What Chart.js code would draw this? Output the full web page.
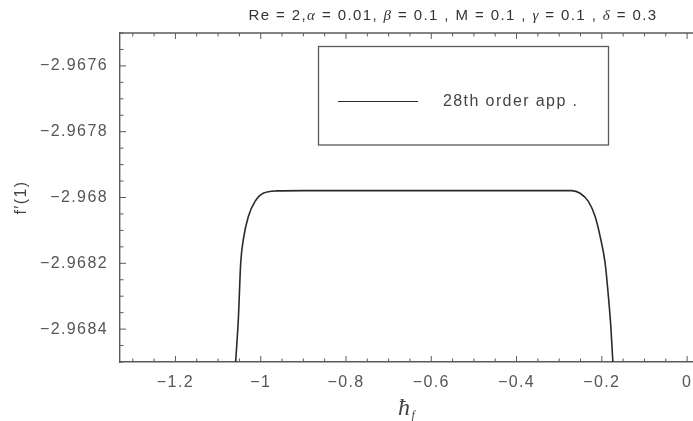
<!DOCTYPE html>
<html>
<head>
<meta charset="utf-8">
<script src="https://cdn.jsdelivr.net/npm/chart.js@4/dist/chart.umd.min.js"></script>
<style>
  html, body { margin: 0; padding: 0; background: #fff; overflow: hidden; }
  #wrap { position: absolute; left: 0; top: 0; width: 760px; height: 421px; }
</style>
</head>
<body>
<div id="wrap"><canvas id="c"></canvas></div>
<script>
// Convergence-control curve of f'(1) against the auxiliary parameter ħ_f
const hf = [-1.0610, -1.0586, -1.0525, -1.0469, -1.0408, -1.0290, -1.0133, -0.9939, -0.9624,
            -0.90, -0.80, -0.70, -0.60, -0.50, -0.40, -0.30,
            -0.2704, -0.2509, -0.2315, -0.2157, -0.2040, -0.1923, -0.1846, -0.1789, -0.1742, -0.1724];
const fp1 = [-2.96855, -2.968497, -2.968371, -2.968199, -2.968128, -2.968058, -2.968012, -2.967987, -2.967980,
             -2.967979, -2.967979, -2.967979, -2.967979, -2.967979, -2.967979, -2.967979,
             -2.967979, -2.967987, -2.968012, -2.968058, -2.968118, -2.968199, -2.968300, -2.968391, -2.968497, -2.96855];

const xTicks = [-1.2, -1, -0.8, -0.6, -0.4, -0.2, 0];
const yTicks = [-2.9676, -2.9678, -2.968, -2.9682, -2.9684];
const seriesLabel = '28th order app .';
const yTitle = 'f\u2032(1)';
// title pieces: [text, italic]
const titleParts = [['Re = 2,', false], ['\u03B1', true], [' = 0.01, ', false], ['\u03B2', true],
                    [' = 0.1 , M = 0.1 , ', false], ['\u03B3', true], [' = 0.1 , ', false],
                    ['\u03B4', true], [' = 0.3', false]];

const SANS = "'Liberation Sans', Arial, sans-serif";
const SERIF = "'Liberation Serif', 'Times New Roman', serif";
const frameColor = '#5a5a5a';
const textColor = '#555';

const fmt = v => String(+(+v).toFixed(5)).replace('-', '\u2212');

const framePlugin = {
  id: 'frame',
  beforeDraw(chart) {
    chart.ctx.letterSpacing = '1.4px';
  },
  afterDraw(chart) {
    const { ctx, chartArea: a, scales: { x, y } } = chart;
    ctx.save();
    ctx.strokeStyle = frameColor;
    ctx.lineWidth = 1.4;
    // top edge
    ctx.beginPath();
    ctx.moveTo(a.left, a.top);
    ctx.lineTo(a.right, a.top);
    ctx.stroke();
    // inward tick marks
    ctx.lineWidth = 1;
    const isMajor = (v, list) => list.some(t => Math.abs(t - v) < 1e-9);
    for (let i = Math.ceil(x.min / 0.05); i * 0.05 <= x.max; i++) {
      const v = +(i * 0.05).toFixed(4);
      const px = x.getPixelForValue(v);
      const len = isMajor(v, xTicks) ? 6 : 3.5;
      ctx.beginPath();
      ctx.moveTo(px, a.bottom); ctx.lineTo(px, a.bottom - len);
      ctx.moveTo(px, a.top); ctx.lineTo(px, a.top + len);
      ctx.stroke();
    }
    for (let i = Math.ceil(y.min / 0.00005); i * 0.00005 <= y.max; i++) {
      const v = +(i * 0.00005).toFixed(6);
      const py = y.getPixelForValue(v);
      const len = isMajor(v, yTicks) ? 6 : 3.5;
      ctx.beginPath();
      ctx.moveTo(a.left, py); ctx.lineTo(a.left + len, py);
      ctx.stroke();
    }

    // legend box
    const ds = chart.data.datasets[0];
    ctx.lineWidth = 1.3;
    ctx.strokeStyle = frameColor;
    ctx.strokeRect(318.5, 46.5, 290, 98.5);
    ctx.strokeStyle = ds.borderColor;
    ctx.lineWidth = 1.1;
    ctx.beginPath();
    ctx.moveTo(338, 101.5); ctx.lineTo(418, 101.5);
    ctx.stroke();
    ctx.fillStyle = '#444';
    ctx.font = '16px ' + SANS;
    ctx.textBaseline = 'middle';
    ctx.textAlign = 'left';
    ctx.fillText(ds.label, 443, 102);

    // chart title
    ctx.font = '15px ' + SANS;
    const fonts = titleParts.map(p => (p[1] ? 'italic 15px ' + SERIF : '15px ' + SANS));
    let total = 0;
    const widths = titleParts.map((p, i) => { ctx.font = fonts[i]; const w = ctx.measureText(p[0]).width; total += w; return w; });
    let cx = 453 - total / 2;
    ctx.fillStyle = '#333';
    ctx.textBaseline = 'alphabetic';
    titleParts.forEach((p, i) => { ctx.font = fonts[i]; ctx.fillText(p[0], cx, 20); cx += widths[i]; });

    // x-axis title: ħ with subscript f
    ctx.fillStyle = '#444';
    ctx.font = 'italic 24px ' + SERIF;
    const hw = ctx.measureText('\u0127').width;
    ctx.fillText('\u0127', 398, 415);
    ctx.font = 'italic 12px ' + SERIF;
    ctx.fillText('f', 398 + hw, 419);
    ctx.restore();
  }
};

new Chart(document.getElementById('c'), {
  type: 'line',
  data: {
    datasets: [{
      label: seriesLabel,
      data: hf.map((v, i) => ({ x: v, y: fp1[i] })),
      borderColor: '#2b2b2b',
      borderWidth: 1.6,
      pointRadius: 0,
      cubicInterpolationMode: 'monotone',
      fill: false
    }]
  },
  options: {
    responsive: true,
    maintainAspectRatio: false,
    animation: false,
    layout: { padding: { top: 33, left: 0, right: 0, bottom: 0 } },
    plugins: { legend: { display: false }, title: { display: false }, tooltip: { enabled: false } },
    scales: {
      x: {
        type: 'linear',
        min: -1.33,
        max: 0.171,
        afterBuildTicks: s => { s.ticks = xTicks.map(v => ({ value: v })); },
        afterFit: s => { s.height = 59; },
        grid: { display: true, drawOnChartArea: false, drawTicks: false },
        border: { display: true, color: frameColor, width: 1.4 },
        ticks: { padding: 11, color: textColor, maxRotation: 0, autoSkip: false,
                 font: { family: SANS, size: 16 }, callback: v => fmt(v) }
      },
      y: {
        type: 'linear',
        min: -2.9685,
        max: -2.9675,
        afterBuildTicks: s => { s.ticks = yTicks.map(v => ({ value: v })); },
        afterFit: s => { s.width = 120; },
        grid: { display: true, drawOnChartArea: false, drawTicks: false },
        border: { display: true, color: frameColor, width: 1.4 },
        title: { display: true, text: yTitle, color: '#444', padding: { top: 12, bottom: 0 },
                 font: { family: SANS, size: 16 } },
        ticks: { padding: 12, color: textColor, autoSkip: false,
                 font: { family: SANS, size: 16 }, callback: v => fmt(v) }
      }
    }
  },
  plugins: [framePlugin]
});
</script>
</body>
</html>
